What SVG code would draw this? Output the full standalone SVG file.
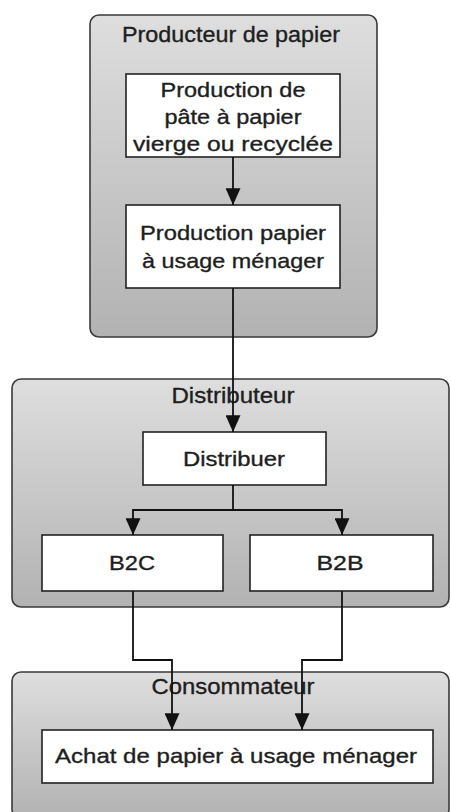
<svg xmlns="http://www.w3.org/2000/svg" width="451" height="812" viewBox="0 0 451 812">
  <style>
    .lane { stroke: #3a3a3a; stroke-width: 1.6; fill: url(#laneFill); }
    .box { fill: #ffffff; stroke: #222222; stroke-width: 1.6; }
    .lbl { font-family: "Liberation Sans", Arial, Helvetica, sans-serif; fill: #1e1e1e; stroke: #1e1e1e; stroke-width: 0.35; text-anchor: middle; }
    .title { font-size: 22px; }
    .txt { font-size: 21px; }
    .wire { fill: none; stroke: #111111; stroke-width: 1.8; }
  </style>
  <defs>
    <linearGradient id="laneFill" x1="0" y1="0" x2="0" y2="1">
      <stop offset="0" stop-color="#dedede"/>
      <stop offset="1" stop-color="#b2b2b2"/>
    </linearGradient>
    <marker id="head" viewBox="0 0 18 16" refX="18" refY="8" markerWidth="18" markerHeight="15" markerUnits="userSpaceOnUse" orient="auto">
      <path d="M0,0 L18,8 L0,16 Z" fill="#111111"/>
    </marker>
  </defs>

  <!-- swimlane containers -->
  <g id="lane-producteur">
    <rect class="lane" x="90" y="15" width="287" height="322" rx="9"/>
    <text class="lbl title" x="231" y="42" textLength="218" lengthAdjust="spacingAndGlyphs">Producteur de papier</text>
  </g>
  <g id="lane-distributeur">
    <rect class="lane" x="12" y="379" width="437" height="228" rx="9"/>
    <text class="lbl title" x="233" y="403" textLength="123" lengthAdjust="spacingAndGlyphs">Distributeur</text>
  </g>
  <g id="lane-consommateur">
    <rect class="lane" x="12" y="672" width="437" height="146" rx="9"/>
    <text class="lbl title" x="233" y="694" textLength="163" lengthAdjust="spacingAndGlyphs">Consommateur</text>
  </g>

  <!-- process steps -->
  <g id="pate">
    <rect class="box" x="126" y="74" width="214" height="83"/>
    <text class="lbl txt" x="233" y="97" textLength="145" lengthAdjust="spacingAndGlyphs">Production de</text>
    <text class="lbl txt" x="233" y="124" textLength="137" lengthAdjust="spacingAndGlyphs">pâte à papier</text>
    <text class="lbl txt" x="233" y="151" textLength="200" lengthAdjust="spacingAndGlyphs">vierge ou recyclée</text>
  </g>
  <g id="papier">
    <rect class="box" x="126" y="205" width="214" height="83"/>
    <text class="lbl txt" x="233" y="240" textLength="186" lengthAdjust="spacingAndGlyphs">Production papier</text>
    <text class="lbl txt" x="233" y="268" textLength="182" lengthAdjust="spacingAndGlyphs">à usage ménager</text>
  </g>
  <g id="distribuer">
    <rect class="box" x="143" y="432" width="183" height="53"/>
    <text class="lbl txt" x="234" y="466" textLength="102" lengthAdjust="spacingAndGlyphs">Distribuer</text>
  </g>
  <g id="b2c">
    <rect class="box" x="42" y="535" width="181" height="56"/>
    <text class="lbl txt" x="132" y="570" textLength="46" lengthAdjust="spacingAndGlyphs">B2C</text>
  </g>
  <g id="b2b">
    <rect class="box" x="250" y="535" width="183" height="56"/>
    <text class="lbl txt" x="340" y="570" textLength="47" lengthAdjust="spacingAndGlyphs">B2B</text>
  </g>
  <g id="achat">
    <rect class="box" x="42" y="730" width="391" height="53"/>
    <text class="lbl txt" x="236" y="763" textLength="362" lengthAdjust="spacingAndGlyphs">Achat de papier à usage ménager</text>
  </g>

  <!-- connectors -->
  <g id="connectors">
    <path class="wire" d="M233,157 V205" marker-end="url(#head)"/>
    <path class="wire" d="M233,288 V432" marker-end="url(#head)"/>
    <path class="wire" d="M233,485 V510 H133 V535" marker-end="url(#head)"/>
    <path class="wire" d="M233,510 H342 V535" marker-end="url(#head)"/>
    <path class="wire" d="M133,591 V660 H172 V730" marker-end="url(#head)"/>
    <path class="wire" d="M342,591 V660 H302 V730" marker-end="url(#head)"/>
  </g>
</svg>
